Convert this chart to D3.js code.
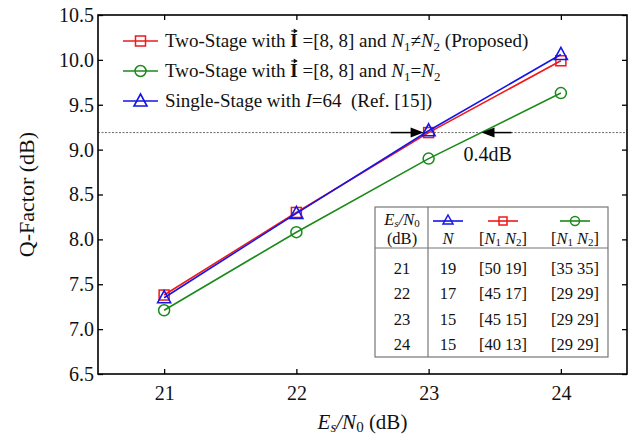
<!DOCTYPE html>
<html><head><meta charset="utf-8">
<script src="https://cdn.jsdelivr.net/npm/d3@7"></script>
<style>
html,body{margin:0;padding:0;background:#fff;}
svg{display:block;font-family:"Liberation Serif","Times New Roman",serif;}
</style></head>
<body><svg id="c" width="632" height="438"></svg>
<script>
// ---- data ----
const snr = [21, 22, 23, 24];
const twoStageUnequal = [7.38, 8.30, 9.19, 9.99];   // red squares
const twoStageEqual   = [7.21, 8.08, 8.90, 9.63];   // green circles
const singleStage     = [7.35, 8.29, 9.21, 10.06];  // blue triangles
const yTicks = [6.5, 7.0, 7.5, 8.0, 8.5, 9.0, 9.5, 10.0, 10.5];
const xTicks = [21, 22, 23, 24];
const threshold = 9.19;
const gapFrom = 23, gapTo = 23.4, gapLabel = "0.4dB";
const tableSnr = ["21", "22", "23", "24"];
const tableN = ["19", "17", "15", "15"];
const tableRed = ["[50 19]", "[45 17]", "[45 15]", "[40 13]"];
const tableGreen = ["[35 35]", "[29 29]", "[29 29]", "[29 29]"];

const svg = d3.select("#c");
const L = 98, R = 627, T = 15, B = 374;
const x = d3.scaleLinear().domain([20.5, 24.5]).range([L, R]);
const y = d3.scaleLinear().domain([6.5, 10.5]).range([B, T]);

const RED = "#f01818", GREEN = "#1a8a1a", BLUE = "#1515e8";

// threshold dotted line
svg.append("line").attr("x1", L).attr("x2", R).attr("y1", y(threshold)).attr("y2", y(threshold))
  .attr("stroke", "#444").attr("stroke-width", 0.8).attr("stroke-dasharray", "2,1.5");

// axes
const fs = "20px";
const gx = svg.append("g").attr("transform", `translate(0,${B})`)
  .call(d3.axisBottom(x).tickValues(xTicks).tickSizeInner(-5).tickSizeOuter(0).tickPadding(12).tickFormat(d3.format("d")));
const gxt = svg.append("g").attr("transform", `translate(0,${T})`)
  .call(d3.axisTop(x).tickValues(xTicks).tickSizeInner(-5).tickSizeOuter(0).tickFormat(""));
const gy = svg.append("g").attr("transform", `translate(${L},0)`)
  .call(d3.axisLeft(y).tickValues(yTicks).tickSizeInner(-5).tickSizeOuter(0).tickPadding(4).tickFormat(d3.format(".1f")));
const gyr = svg.append("g").attr("transform", `translate(${R},0)`)
  .call(d3.axisRight(y).tickValues(yTicks).tickSizeInner(-5).tickSizeOuter(0).tickFormat(""));
[gx, gxt, gy, gyr].forEach(g => {
  g.select(".domain").remove();
  g.selectAll("line").attr("stroke", "#000").attr("stroke-width", 1.3);
  g.selectAll("text").attr("font-family", "Liberation Serif").attr("font-size", fs).attr("fill", "#111");
});
gx.selectAll("text").attr("dy", "0.71em");
svg.append("rect").attr("x", L).attr("y", T).attr("width", R - L).attr("height", B - T)
  .attr("fill", "none").attr("stroke", "#000").attr("stroke-width", 1.6);

// axis titles
const xt = svg.append("text").attr("x", (L + R) / 2).attr("y", 429).attr("text-anchor", "middle").attr("font-size", "21px").attr("fill", "#111");
xt.append("tspan").attr("font-style", "italic").text("E");
xt.append("tspan").attr("font-style", "italic").attr("font-size", "15px").attr("dy", 3).text("s");
xt.append("tspan").attr("font-style", "italic").attr("dy", -3).text("/N");
xt.append("tspan").attr("font-size", "15px").attr("dy", 3).text("0");
xt.append("tspan").attr("dy", -3).text(" (dB)");
svg.append("text").attr("transform", `translate(34,${(T + B) / 2}) rotate(-90)`).attr("text-anchor", "middle")
  .attr("font-size", "22px").attr("fill", "#111").text("Q-Factor (dB)");

// markers
function marker(g, type, cx, cy, color) {
  if (type === "square") g.append("rect").attr("x", cx - 5).attr("y", cy - 5).attr("width", 10).attr("height", 10)
    .attr("fill", "none").attr("stroke", color).attr("stroke-width", 1.5);
  else if (type === "circle") g.append("circle").attr("cx", cx).attr("cy", cy).attr("r", 5.5)
    .attr("fill", "none").attr("stroke", color).attr("stroke-width", 1.5);
  else g.append("path").attr("d", `M${cx},${cy - 7}L${cx + 6.5},${cy + 5}L${cx - 6.5},${cy + 5}Z`)
    .attr("fill", "none").attr("stroke", color).attr("stroke-width", 1.6);
}
const series = [
  {vals: twoStageEqual, color: GREEN, m: "circle"},
  {vals: twoStageUnequal, color: RED, m: "square"},
  {vals: singleStage, color: BLUE, m: "triangle"}
];
const line = d3.line().x((d, i) => x(snr[i])).y(d => y(d));
series.forEach(s => {
  const g = svg.append("g");
  g.append("path").datum(s.vals).attr("d", line).attr("fill", "none").attr("stroke", s.color).attr("stroke-width", 1.6);
  s.vals.forEach((v, i) => marker(g, s.m, x(snr[i]), y(v), s.color));
});

// arrows annotation
function arrow(x1, x2, yy) {
  const dir = Math.sign(x2 - x1);
  svg.append("line").attr("x1", x1).attr("x2", x2 - dir * 10).attr("y1", yy).attr("y2", yy).attr("stroke", "#000").attr("stroke-width", 1.5);
  svg.append("path").attr("d", `M${x2},${yy}L${x2 - dir * 13},${yy - 5}L${x2 - dir * 13},${yy + 5}Z`).attr("fill", "#000");
}
arrow(x(gapFrom) - 38, x(gapFrom) - 5, y(threshold));
arrow(x(gapTo) + 30, x(gapTo), y(threshold));
svg.append("text").attr("x", x(gapTo) - 18).attr("y", y(threshold) + 28).attr("font-size", "20px").attr("fill", "#111").text(gapLabel);

// legend
const legend = [
  {color: RED, m: "square", kind: 0},
  {color: GREEN, m: "circle", kind: 1},
  {color: BLUE, m: "triangle", kind: 2}
];
legend.forEach((l, i) => {
  const yy = 41 + i * 30;
  svg.append("line").attr("x1", 123).attr("x2", 158).attr("y1", yy).attr("y2", yy).attr("stroke", l.color).attr("stroke-width", 1.6);
  marker(svg, l.m, 140.5, yy, l.color);
  const t = svg.append("text").attr("x", 165).attr("y", yy + 6).attr("font-size", "19px").attr("fill", "#111").attr("xml:space", "preserve");
  if (l.kind < 2) {
    t.append("tspan").text("Two-Stage with ");
    t.append("tspan").attr("font-weight", "bold").text("I");
    t.append("tspan").text(" =[8, 8] and ");
    t.append("tspan").attr("font-style", "italic").text("N");
    t.append("tspan").attr("font-size", "13px").attr("dy", 4).text("1");
    t.append("tspan").attr("dy", -4).text(l.kind === 0 ? "≠" : "=");
    t.append("tspan").attr("font-style", "italic").text("N");
    t.append("tspan").attr("font-size", "13px").attr("dy", 4).text("2");
    if (l.kind === 0) t.append("tspan").attr("dy", -4).text(" (Proposed)");
    // vector arrow over I
    const idx = "Two-Stage with ".length;
    const ext = t.node().getExtentOfChar(idx);
    const ax = ext.x + 1, aw = ext.width - 2, ay = ext.y + 1;
    svg.append("line").attr("x1", ax).attr("x2", ax + aw).attr("y1", ay).attr("y2", ay).attr("stroke", "#111").attr("stroke-width", 1.2);
    svg.append("path").attr("d", `M${ax + aw + 1},${ay}L${ax + aw - 3},${ay - 2.5}L${ax + aw - 3},${ay + 2.5}Z`).attr("fill", "#111");
  } else {
    t.append("tspan").text("Single-Stage with ");
    t.append("tspan").attr("font-style", "italic").text("I");
    t.append("tspan").text("=64  (Ref. [15])");
  }
});

// table
const tb = {x0: 375, x1: 608, y0: 207, y1: 357, yh: 248, xv: 428};
const tg = svg.append("g").attr("font-size", "16.5px").attr("fill", "#111");
tg.append("rect").attr("x", tb.x0).attr("y", tb.y0).attr("width", tb.x1 - tb.x0).attr("height", tb.y1 - tb.y0)
  .attr("fill", "#fff").attr("stroke", "#777").attr("stroke-width", 1.2);
tg.append("line").attr("x1", tb.x0).attr("x2", tb.x1).attr("y1", tb.yh).attr("y2", tb.yh).attr("stroke", "#777").attr("stroke-width", 1.2);
tg.append("line").attr("x1", tb.xv).attr("x2", tb.xv).attr("y1", tb.y0).attr("y2", tb.y1).attr("stroke", "#777").attr("stroke-width", 1.2);
const cols = [402, 448, 503, 575];
// header
const h1 = tg.append("text").attr("x", cols[0]).attr("y", 225).attr("text-anchor", "middle");
h1.append("tspan").attr("font-style", "italic").text("E");
h1.append("tspan").attr("font-style", "italic").attr("font-size", "11px").attr("dy", 2).text("s");
h1.append("tspan").attr("font-style", "italic").attr("dy", -2).text("/N");
h1.append("tspan").attr("font-size", "11px").attr("dy", 2).text("0");
tg.append("text").attr("x", cols[0]).attr("y", 244).attr("text-anchor", "middle").text("(dB)");
const hm = [{m: "triangle", c: BLUE}, {m: "square", c: RED}, {m: "circle", c: GREEN}];
hm.forEach((h, i) => {
  const cx = cols[i + 1];
  tg.append("line").attr("x1", cx - 15).attr("x2", cx + 15).attr("y1", 221).attr("y2", 221).attr("stroke", h.c).attr("stroke-width", 1.6);
  if (h.m === "triangle") tg.append("path").attr("d", `M${cx},${215}L${cx + 5},${224}L${cx - 5},${224}Z`).attr("fill", "none").attr("stroke", h.c).attr("stroke-width", 1.5);
  else if (h.m === "square") tg.append("rect").attr("x", cx - 4).attr("y", 217).attr("width", 8).attr("height", 8).attr("fill", "none").attr("stroke", h.c).attr("stroke-width", 1.5);
  else tg.append("circle").attr("cx", cx).attr("cy", 221).attr("r", 4.5).attr("fill", "none").attr("stroke", h.c).attr("stroke-width", 1.5);
});
tg.append("text").attr("x", cols[1]).attr("y", 244).attr("text-anchor", "middle").attr("font-style", "italic").text("N");
[cols[2], cols[3]].forEach(cx => {
  const t = tg.append("text").attr("x", cx).attr("y", 244).attr("text-anchor", "middle").attr("xml:space", "preserve");
  t.append("tspan").text("[");
  t.append("tspan").attr("font-style", "italic").text("N");
  t.append("tspan").attr("font-size", "11px").attr("dy", 2).text("1");
  t.append("tspan").attr("dy", -2).text(" ");
  t.append("tspan").attr("font-style", "italic").text("N");
  t.append("tspan").attr("font-size", "11px").attr("dy", 2).text("2");
  t.append("tspan").attr("dy", -2).text("]");
});
const rowY = d3.scaleLinear().domain([0, 3]).range([274, 350]);
tableSnr.forEach((s, i) => {
  const yy = rowY(i);
  [s, tableN[i], tableRed[i], tableGreen[i]].forEach((v, j) => {
    tg.append("text").attr("x", cols[j]).attr("y", yy).attr("text-anchor", "middle").attr("xml:space", "preserve").text(v);
  });
});
</script></body></html>
